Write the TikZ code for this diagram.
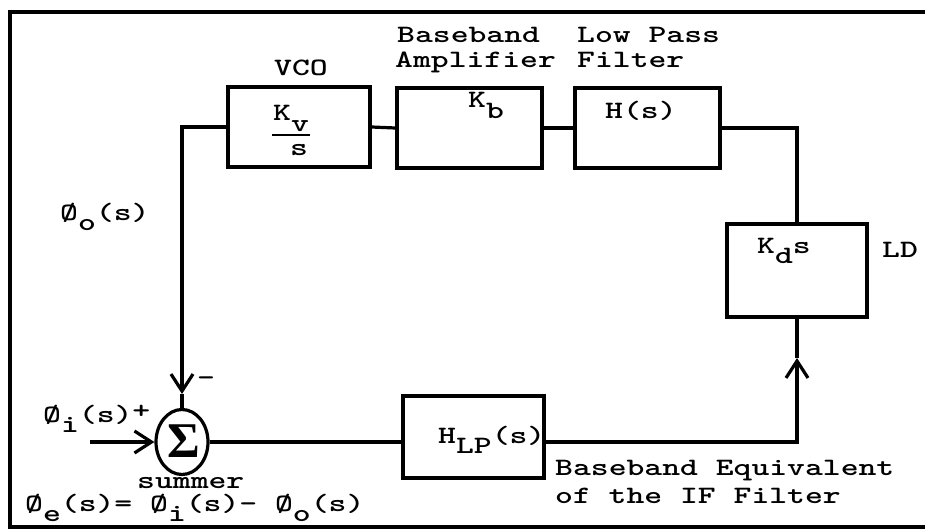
\documentclass[tikz,border=0pt]{standalone}
\usepackage{fontspec}
\newfontfamily\tw[FakeStretch=1.36, BoldFont=lmmonolt10-bold.otf]{lmmono10-regular.otf}
\newfontfamily\sigf{Liberation Serif}
\usetikzlibrary{arrows.meta,shapes.geometric}
\newcommand\dn[1]{\raisebox{-10pt}{#1}}
\newcommand\upp[1]{\raisebox{4pt}{#1}}
\tikzset{
  txt/.style={inner sep=0pt, anchor=base west, font=\tw\bfseries\fontsize{25}{26}\selectfont},
  blk/.style 2 args={draw, line width=3.2pt, rectangle, inner sep=0pt, minimum width=#1, minimum height=#2},
  wire/.style={line width=3.2pt},
  barb/.style={-{Straight Barb[length=17pt,width=22pt]}}
}
\begin{document}
\begin{tikzpicture}[x=1pt,y=-1pt]
\useasboundingbox (0,0) rectangle (925,532);
\draw[line width=4.5pt] (925,12) -- (10,12) -- (10,527) -- (925,527);
% blocks
\node[blk={142pt}{80pt}] (vco) at (299,127) {};
\node[blk={145pt}{80pt}] (bba) at (469.5,128) {};
\node[blk={145pt}{80pt}] (lpf) at (647.5,128) {};
\node[blk={140pt}{93pt}] (kd)  at (797,270.5) {};
\node[blk={141pt}{82pt}] (hlp) at (473.5,437) {};
\node[draw, ellipse, line width=3.2pt, inner sep=0pt, minimum width=52pt, minimum height=65pt] (sum) at (182,442) {};
\node[inner sep=0pt, font=\sigf\bfseries\fontsize{50}{50}\selectfont] (sig) at (184,441) {Σ};
% coordinates
\coordinate (fbtip) at (182,394);
\coordinate (kdtip) at (797,358);
\coordinate (inp) at (90,442);
% connectors
\draw[wire] (vco.east) -- (bba.west);
\draw[wire] (bba.east) -- (lpf.west);
\draw[wire] (lpf.east) -| (kd.north);
\draw[wire,barb] (vco.west) -| (fbtip);
\draw[wire] (fbtip) -- (sum.north);
\draw[wire,barb] (inp) -- (sum.west);
\draw[wire] (sum.east) -- (sum.east -| hlp.west);
\draw[wire,barb] (sum.east -| hlp.east) -| (kdtip);
\draw[wire] (kdtip) -- (kd.south);
% labels
\node[txt] (lvco) at (274,76) {VCO};
\node[txt] (lbb1) at (397,43) {Baseband};
\node[txt] (lbb2) at (395,68) {Amplifier};
\node[txt] (llp1) at (577,43) {Low Pass};
\node[txt] (llp2) at (577,68) {Filter};
\node[txt] (tkv) at (273,121) {K\dn{v}};
\draw[line width=2.6pt] (272,135) -- (310,135);
\node[txt] (ts) at (290,155) {s};
\node[txt] (tkb) at (468,108) {K\dn{b}};
\node[txt] (ths) at (605,118) {H(s)};
\node[txt] (tkd) at (757,253) {K\dn{d}s};
\node[txt] (tld) at (882,257) {LD};
\node[txt] (thlp) at (438,443) {H\dn{LP}(s)};
\node[txt] (tpo) at (60,220) {Ø\dn{o}(s)};
\node[txt] (tpi) at (43,422) {Ø\dn{i}(s)\upp{+}};
\node[txt] (tminus) at (197,385) {-};
\node[txt] (tsum) at (137,488) {summer};
\node[txt] (teq) at (25,511) {Ø\dn{e}(s)= Ø\dn{i}(s)- Ø\dn{o}(s)};
\node[txt] (tbe1) at (555,475) {Baseband Equivalent};
\node[txt] (tbe2) at (555,503) {of the IF Filter};
\end{tikzpicture}
\end{document}
